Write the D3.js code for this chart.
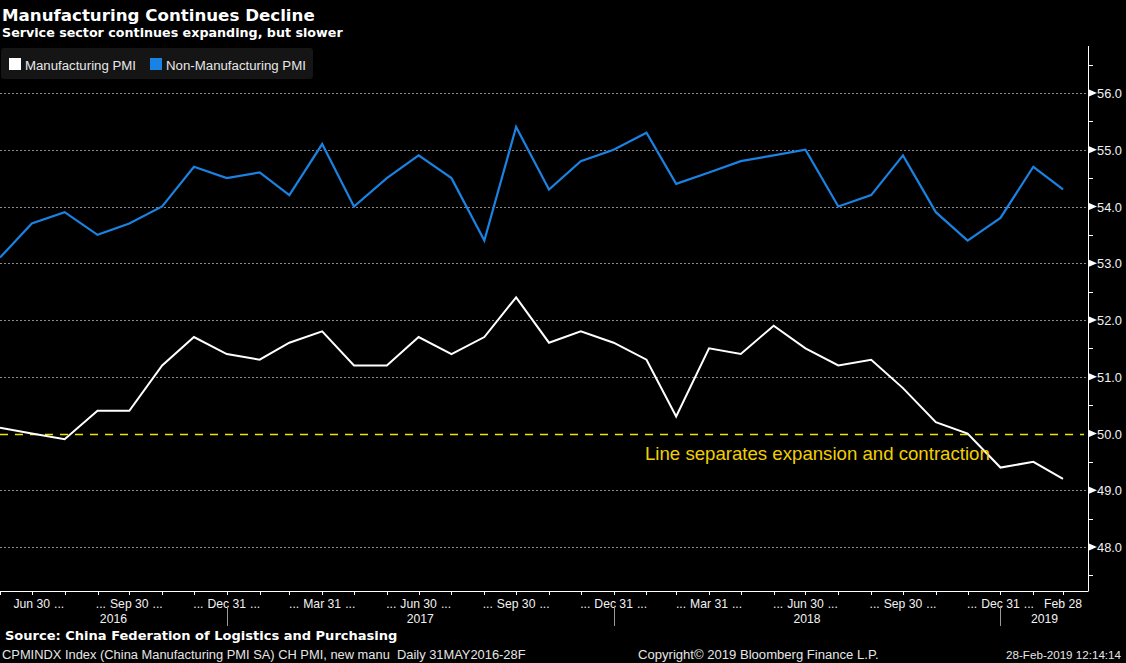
<!DOCTYPE html>
<html><head><meta charset="utf-8">
<script src="https://cdn.jsdelivr.net/npm/d3@7"></script>
<style>body{margin:0;background:#000;overflow:hidden}svg{display:block}</style>
</head><body>
<svg id="c" width="1126" height="663"></svg>
<script>
// ---------- data ----------
const dates = ["2016-05-31","2016-06-30","2016-07-31","2016-08-31","2016-09-30","2016-10-31","2016-11-30","2016-12-31",
"2017-01-31","2017-02-28","2017-03-31","2017-04-30","2017-05-31","2017-06-30","2017-07-31","2017-08-31","2017-09-30","2017-10-31","2017-11-30","2017-12-31",
"2018-01-31","2018-02-28","2018-03-31","2018-04-30","2018-05-31","2018-06-30","2018-07-31","2018-08-31","2018-09-30","2018-10-31","2018-11-30","2018-12-31",
"2019-01-31","2019-02-28"];
const manufacturingPMI = [50.1,50.0,49.9,50.4,50.4,51.2,51.7,51.4,51.3,51.6,51.8,51.2,51.2,51.7,51.4,51.7,52.4,51.6,51.8,51.6,51.3,50.3,51.5,51.4,51.9,51.5,51.2,51.3,50.8,50.2,50.0,49.4,49.5,49.2];
const nonManufacturingPMI = [53.1,53.7,53.9,53.5,53.7,54.0,54.7,54.5,54.6,54.2,55.1,54.0,54.5,54.9,54.5,53.4,55.4,54.3,54.8,55.0,55.3,54.4,54.6,54.8,54.9,55.0,54.0,54.2,54.9,53.9,53.4,53.8,54.7,54.3];
const yTicks = [48,49,50,51,52,53,54,55,56];
const threshold = 50;
const quarterDates = ["2016-06-30","2016-09-30","2016-12-31","2017-03-31","2017-06-30","2017-09-30","2017-12-31","2018-03-31","2018-06-30","2018-09-30","2018-12-31","2019-02-28"];
const quarterLabels = ["Jun 30","Sep 30","Dec 31","Mar 31","Jun 30","Sep 30","Dec 31","Mar 31","Jun 30","Sep 30","Dec 31","Feb 28"];
const yearLabels = ["2016","2017","2018","2019"];
const yearBounds = ["2016-05-31","2016-12-31","2017-12-31","2018-12-31","2019-03-24"];

(function(){
const parse = d3.timeParse("%Y-%m-%d");
const svg = d3.select("#c");
const FONT = "Liberation Sans, Arial, sans-serif";
const BFONT = "DejaVu Sans, Verdana, sans-serif";

const pLeft = 0, pRight = 1088, pTop = 46, pBottom = 591;
const x = d3.scaleTime().domain([parse("2016-05-31"), parse("2019-02-28")]).range([0, 1063]);
const y = d3.scaleLinear().domain([48, 56]).range([547, 93]);

function fit(sel, w){
  const len = sel.node().getComputedTextLength();
  const fs = parseFloat(sel.attr("font-size"));
  sel.attr("font-size", fs * w / len);
  return sel;
}

svg.append("rect").attr("width",1126).attr("height",663).attr("fill","#000");

// gridlines
svg.append("g").selectAll("line").data(yTicks.filter(v => v !== threshold)).join("line")
  .attr("x1", pLeft).attr("x2", pRight).attr("y1", d => Math.round(y(d))+0.5).attr("y2", d => Math.round(y(d))+0.5)
  .attr("stroke","#8a8a8a").attr("stroke-width",1).attr("stroke-dasharray","2,2");

// threshold dashed line
svg.append("line").attr("x1",pLeft).attr("x2",pRight-4).attr("y1",Math.round(y(threshold))+0.5).attr("y2",Math.round(y(threshold))+0.5)
  .attr("stroke","#f0e400").attr("stroke-width",1.3).attr("stroke-dasharray","8,7");

// lines
const line = d3.line().x((d,i) => x(parse(dates[i]))).y(d => y(d));
svg.append("path").datum(nonManufacturingPMI).attr("d", line)
  .attr("fill","none").attr("stroke","#1a82e2").attr("stroke-width",2.2).attr("stroke-linejoin","miter");
svg.append("path").datum(manufacturingPMI).attr("d", line)
  .attr("fill","none").attr("stroke","#ffffff").attr("stroke-width",2).attr("stroke-linejoin","miter");

// annotation
fit(svg.append("text").attr("x",645).attr("y",460).attr("font-family",FONT).attr("font-size",17)
  .attr("fill","#f0cf00").text("Line separates expansion and contraction"), 345);

// right axis
const ax = svg.append("g");
ax.append("line").attr("x1",pRight+0.5).attr("x2",pRight+0.5).attr("y1",pTop).attr("y2",pBottom)
  .attr("stroke","#fff").attr("stroke-width",1);
const minor = d3.range(47.5, 57, 1).filter(v => y(v) > pTop && y(v) < pBottom);
ax.selectAll(".mn").data(minor).join("line").attr("class","mn")
  .attr("x1",pRight).attr("x2",pRight+5).attr("y1",d=>Math.round(y(d))+0.5).attr("y2",d=>Math.round(y(d))+0.5)
  .attr("stroke","#fff").attr("stroke-width",1);
ax.selectAll(".tri").data(yTicks).join("path").attr("class","tri")
  .attr("d", d => `M${pRight+1},${y(d)-3.5}L${pRight+9},${y(d)}L${pRight+1},${y(d)+3.5}Z`)
  .attr("fill","#fff");
const yl = ax.selectAll(".yl").data(yTicks).join("text").attr("class","yl")
  .attr("x", pRight+9).attr("y", d => y(d)+5).attr("font-family",FONT).attr("font-size",13)
  .attr("fill","#f2f2f2").text(d => d3.format(".1f")(d));
{ const len = yl.node().getComputedTextLength(); yl.attr("font-size", 13*25/len); }

// bottom axis
svg.append("line").attr("x1",pLeft).attr("x2",pRight+0.5).attr("y1",pBottom+0.5).attr("y2",pBottom+0.5)
  .attr("stroke","#fff").attr("stroke-width",1);
const monthEnds = d3.timeMonth.range(parse("2016-06-01"), parse("2019-03-02")).map(d => d3.timeDay.offset(d,-1));
svg.append("g").selectAll("line").data(monthEnds).join("line")
  .attr("x1", d => Math.round(x(d))+0.5).attr("x2", d => Math.round(x(d))+0.5)
  .attr("y1", pBottom).attr("y2", pBottom+4).attr("stroke","#fff").attr("stroke-width",1);

// quarter labels
const qg = svg.append("g").attr("font-family",FONT).attr("fill","#f2f2f2");
let qfs = 13;
{ const t = qg.append("text").attr("font-size",13).text("Jun 30"); const len = t.node().getComputedTextLength(); qfs = 13*36.6/len; t.remove(); }
const lastQ = quarterDates.length - 1;
quarterDates.forEach((ds,i) => {
  const cx = x(parse(ds));
  const t = qg.append("text").attr("x",cx).attr("y",608).attr("font-size",qfs).attr("text-anchor","middle").text(quarterLabels[i]);
  const w = t.node().getComputedTextLength();
  if (i > 0 && i < lastQ) qg.append("text").attr("x",cx - w/2 - 4).attr("y",608).attr("font-size",qfs).attr("text-anchor","end").text("...");
  if (i < lastQ) qg.append("text").attr("x",cx + w/2 + 4).attr("y",608).attr("font-size",qfs).attr("text-anchor","start").text("...");
});
// year labels & dividers
yearLabels.forEach((yr,i) => {
  const a = x(parse(yearBounds[i])), b = x(parse(yearBounds[i+1]));
  qg.append("text").attr("x",(a+b)/2).attr("y",623).attr("font-size",qfs).attr("text-anchor","middle").text(yr);
});
svg.append("g").selectAll("line").data(yearBounds.slice(1,4)).join("line")
  .attr("x1", d => Math.round(x(parse(d)))+0.5).attr("x2", d => Math.round(x(parse(d)))+0.5)
  .attr("y1",606).attr("y2",626).attr("stroke","#9a9a9a").attr("stroke-width",1);

// title block
fit(svg.append("text").attr("x",2).attr("y",21).attr("font-family",BFONT).attr("font-weight","bold")
  .attr("font-size",18).attr("fill","#fff").text("Manufacturing Continues Decline"), 313);
fit(svg.append("text").attr("x",2).attr("y",37).attr("font-family",BFONT).attr("font-weight","bold")
  .attr("font-size",13).attr("fill","#fff").text("Service sector continues expanding, but slower"), 341);

// legend
svg.append("rect").attr("x",1).attr("y",48).attr("width",312).attr("height",31).attr("rx",3).attr("fill","#151515");
const legendItems = [{name:"Manufacturing PMI", color:"#ffffff", x:9, tx:25, w:111},{name:"Non-Manufacturing PMI", color:"#1a82e2", x:150, tx:166, w:140}];
legendItems.forEach(it => {
  svg.append("rect").attr("x",it.x).attr("y",58).attr("width",12).attr("height",12).attr("fill",it.color);
  fit(svg.append("text").attr("x",it.tx).attr("y",70).attr("font-family",FONT).attr("font-size",13)
    .attr("fill","#e8e8e8").text(it.name), it.w);
});

// footer
fit(svg.append("text").attr("x",5).attr("y",640).attr("font-family",BFONT).attr("font-weight","bold")
  .attr("font-size",13).attr("fill","#fff").text("Source: China Federation of Logistics and Purchasing"), 393);
fit(svg.append("text").attr("x",2).attr("y",659).attr("font-family",FONT).attr("font-size",12)
  .attr("fill","#e6e6e6").style("white-space","pre")
  .text("CPMINDX Index (China Manufacturing PMI SA) CH PMI, new manu  Daily 31MAY2016-28F"), 524);
fit(svg.append("text").attr("x",638).attr("y",659).attr("font-family",FONT).attr("font-size",12)
  .attr("fill","#e6e6e6").text("Copyright© 2019 Bloomberg Finance L.P."), 241);
fit(svg.append("text").attr("x",1121).attr("y",659).attr("font-family",FONT).attr("font-size",12)
  .attr("text-anchor","end").attr("fill","#e6e6e6").text("28-Feb-2019 12:14:14"), 115);
})();
</script>
</body></html>
